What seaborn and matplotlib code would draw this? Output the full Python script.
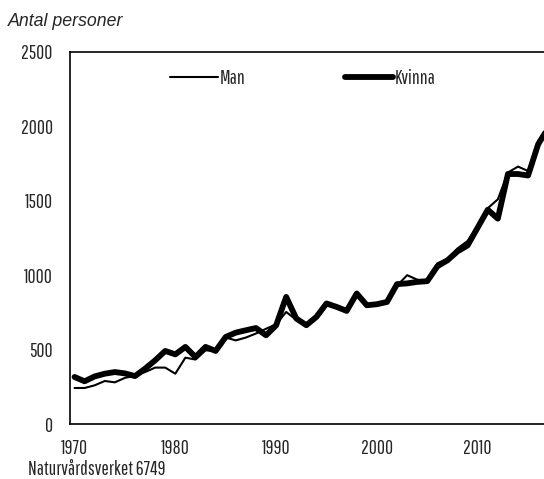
import numpy as np
import pandas as pd
import matplotlib
matplotlib.use("Agg")
import matplotlib.pyplot as plt
import seaborn as sns

# data
years = list(range(1970, 2018))
man = [242, 242, 260, 289, 280, 310, 325, 349, 379, 379,
       338, 446, 433, 495, 491, 581, 562, 581, 608, 640,
       670, 753, 700, 670, 725, 800, 780, 765, 865, 800,
       810, 820, 930, 1000, 970, 960, 1080, 1110, 1180, 1230,
       1330, 1450, 1510, 1690, 1730, 1700, 1900, 2000]
kvinna = [316, 287, 320, 338, 349, 340, 322, 372, 428, 491,
          468, 518, 450, 518, 491, 585, 614, 630, 645, 596,
          663, 854, 709, 664, 720, 810, 787, 760, 877, 798,
          805, 820, 940, 945, 955, 960, 1060, 1100, 1160, 1200,
          1320, 1440, 1380, 1680, 1680, 1670, 1880, 1990]
y_ticks = [0, 500, 1000, 1500, 2000, 2500]
x_labels = [1970, 1980, 1990, 2000, 2010]

df = pd.DataFrame({"year": years, "Man": man, "Kvinna": kvinna})

sns.set_style("white")
plt.rcParams['font.family'] = ['Pathway Gothic One', 'DejaVu Sans']
fs = 14

fig = plt.figure(figsize=(5.44, 4.79), dpi=100)
# axes runs past the right edge, like the cropped original
ax = fig.add_axes([69.5 / 544, 55 / 479, 514 / 544, 372 / 479])

sns.lineplot(data=df, x="year", y="Man", color="black", linewidth=1.5, ax=ax, label="Man")
sns.lineplot(data=df, x="year", y="Kvinna", color="black", linewidth=4.2, ax=ax, label="Kvinna")

ax.set_xlim(1969.5, 2020.5)
ax.set_ylim(0, 2500)
ax.set_yticks(y_ticks)
ax.set_xticks(x_labels)
ax.set_xticks(np.arange(1969.5, 2021, 1), minor=True)
ax.tick_params(axis="x", which="major", length=0, labelsize=fs, pad=11)
ax.tick_params(axis="x", which="minor", direction="inout", length=7, width=1, color="black")
ax.tick_params(axis="y", which="major", direction="in", length=4, width=1, labelsize=fs, pad=12, color="black")
ax.set_xlabel("")
ax.set_ylabel("")
for s in ax.spines.values():
    s.set_color("black")
    s.set_linewidth(1.2)

leg = ax.legend(loc="center left", bbox_to_anchor=(170 / 544, 1 - 78 / 479),
                bbox_transform=fig.transFigure, ncol=2, frameon=False,
                fontsize=fs, handlelength=2.45, handletextpad=0.12,
                columnspacing=5.1, borderpad=0, borderaxespad=0)

fig.text(8 / 544, 1 - 26 / 479, "Antal personer", fontsize=12.8, style="italic",
         family=["Liberation Sans", "DejaVu Sans"], va="baseline")
fig.text(28 / 544, 1 - 475 / 479, "Naturvårdsverket 6749", fontsize=fs, va="baseline")

fig.savefig("out.png", dpi=100)
